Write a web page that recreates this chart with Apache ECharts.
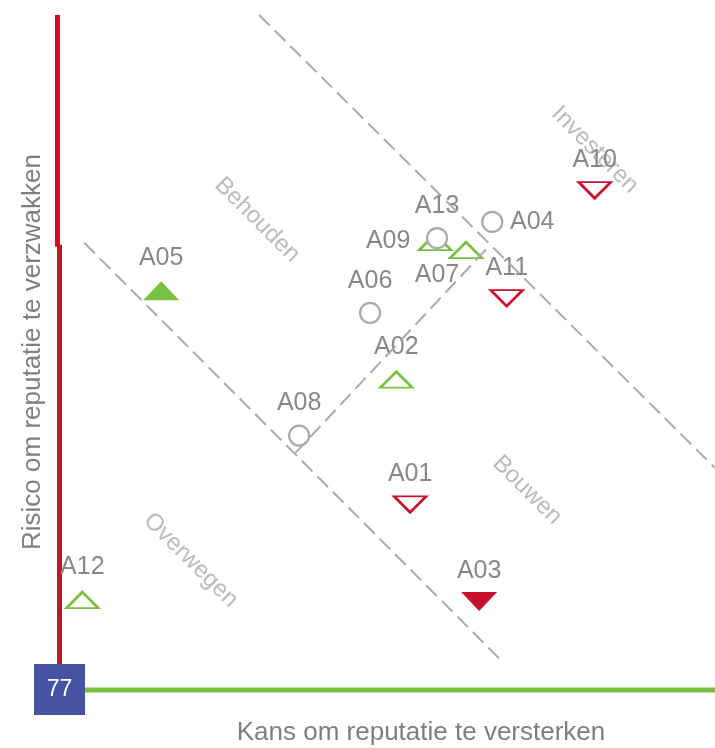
<!DOCTYPE html>
<html><head><meta charset="utf-8">
<script src="https://cdn.jsdelivr.net/npm/echarts@6/dist/echarts.min.js"></script>
<style>html,body{margin:0;padding:0;background:#fff}#c{width:715px;height:748px}</style>
</head><body><div id="c"></div>
<script>
// ---- data ----
const ids     = ['A01','A02','A03','A04','A05','A06','A07','A08','A09','A10','A11','A12','A13'];
const kansX   = [53.6, 51.5, 64.1, 66.1, 15.7, 47.5, 62.1, 36.7, 57.4, 81.7, 68.3, 3.7, 57.7];
const risicoY = [27.4, 45.9, 13.0, 69.3, 59.1, 55.8, 65.1, 37.6, 66.3, 74.0, 58.0, 13.2, 66.9];
const kinds   = ['down','up','downFilled','circle','upFilled','circle','up','circle','up','down','down','up','circle'];
const regionNames = ['Behouden','Investeren','Bouwen','Overwegen'];
const regionX = [30.3, 81.7, 71.4, 20.2];
const regionY = [69.6, 80.0, 29.5, 19.1];
const boundary1 = [[4.0, 66.2], [67.7, 4.0]];
const boundary2 = [[30.6, 100], [100, 32.8]];
const boundary3 = [[36.1, 35.0], [65.8, 65.9]];
const badgeValue = '77';
const xTitle = 'Kans om reputatie te versterken';
const yTitle = 'Risico om reputatie te verzwakken';

// ---- styles ----
const RED = '#c8102e', GREEN = '#7ac143', GREY = '#aaaaaa', BLUE = '#4653a2';
const FONT = "'Liberation Sans', Arial, sans-serif";
const kindStyle = {
  up:         {symbol:'triangle', rotate:0,   size:[32,16], fill:'#fff', stroke:GREEN, bw:2.5, dy:-33},
  upFilled:   {symbol:'triangle', rotate:0,   size:[36,19], fill:GREEN, stroke:GREEN, bw:0,   dy:-33},
  down:       {symbol:'triangle', rotate:180, size:[32,16], fill:'#fff', stroke:RED,   bw:2.5, dy:-30},
  downFilled: {symbol:'triangle', rotate:180, size:[36,19], fill:RED,   stroke:RED,   bw:0,   dy:-30},
  circle:     {symbol:'circle',   rotate:0,   size:20,      fill:'#fff', stroke:GREY,  bw:2.2, dy:-32}
};
const labelOffsetOverride = { A04:[40,0], A09:[-47,-1], A07:[-29,25] };

function makeItem(i) {
  const k = kindStyle[kinds[i]];
  return {
    name: ids[i],
    value: [kansX[i], risicoY[i]],
    symbol: k.symbol,
    symbolSize: k.size,
    symbolRotate: k.rotate,
    itemStyle: {color:k.fill, borderColor:k.stroke, borderWidth:k.bw, opacity:1},
    label: {offset: labelOffsetOverride[ids[i]] || [0, k.dy]}
  };
}
const triItems = [], circItems = [];
ids.forEach((id, i) => (kinds[i] === 'circle' ? circItems : triItems).push(makeItem(i)));

const pointLabel = {
  show:true, position:'inside', formatter:'{b}',
  color:'#888888', fontSize:25, fontFamily:FONT
};

const chart = echarts.init(document.getElementById('c'), null, {renderer:'canvas'});
const hiddenAxis = {
  type:'value', min:0, max:100,
  axisLine:{show:false}, axisTick:{show:false}, axisLabel:{show:false}, splitLine:{show:false}
};
const dashed = (data) => ({
  type:'line', data, clip:false, showSymbol:false, silent:true, z:4,
  lineStyle:{color:GREY, width:2, type:[15,7], opacity:1}
});
const solid = (data, color) => ({
  type:'line', data, clip:false, showSymbol:false, silent:true, z:1,
  lineStyle:{color, width:5, cap:'butt', opacity:1}
});

chart.setOption({
  animation:false,
  backgroundColor:'#fff',
  grid:{left:58, right:0, top:15, bottom:59, containLabel:false},
  xAxis: hiddenAxis,
  yAxis: hiddenAxis,
  series:[
    solid([[-0.08,100],[-0.08,65.6]], RED),
    solid([[0.23,65.9],[0.23,0]], RED),
    solid([[0.23,-0.15],[100,-0.15]], GREEN),
    dashed(boundary1), dashed(boundary2), dashed(boundary3),
    {
      type:'scatter', silent:true, clip:false, z:1,
      data: regionNames.map((n,i)=>({name:n, value:[regionX[i], regionY[i]]})),
      symbolSize:0,
      label:{show:true, position:'inside', formatter:'{b}', rotate:-45,
             color:GREY, fontSize:24, fontFamily:FONT}
    },
    {type:'scatter', silent:true, clip:false, z:2, data:triItems, label:pointLabel},
    {type:'scatter', silent:true, clip:false, z:3, data:circItems, label:pointLabel},
    {
      type:'scatter', silent:true, clip:false, z:6,
      data:[{name:badgeValue, value:[0.23,-0.07]}],
      symbol:'rect', symbolSize:51, itemStyle:{color:BLUE, opacity:1},
      label:{show:true, position:'inside', formatter:'{b}', color:'#fff', fontSize:23, fontFamily:FONT}
    }
  ],
  graphic:[
    {type:'text', x:421, y:733, silent:true,
     style:{text:xTitle, fill:'#7f7f7f', font:'26px ' + FONT, textAlign:'center', textVerticalAlign:'middle'}},
    {type:'text', x:33, y:352, rotation:Math.PI/2, silent:true,
     style:{text:yTitle, fill:'#7f7f7f', font:'26px ' + FONT, textAlign:'center', textVerticalAlign:'middle'}}
  ]
});
</script>
</body></html>
